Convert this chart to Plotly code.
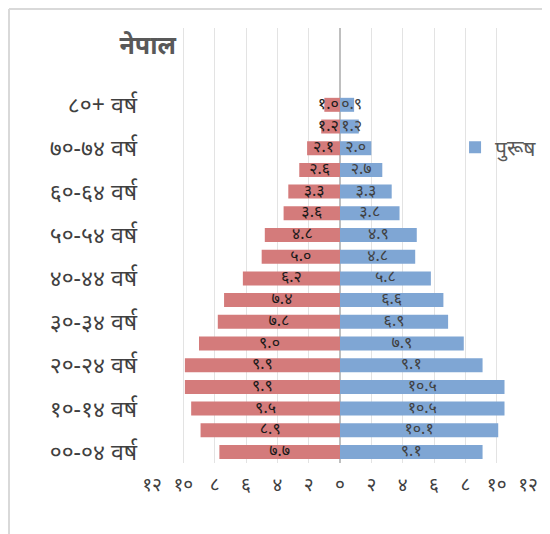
import plotly.graph_objects as go

age_labels = ["००-०४ वर्ष", "१०-१४ वर्ष", "२०-२४ वर्ष", "३०-३४ वर्ष", "४०-४४ वर्ष",
              "५०-५४ वर्ष", "६०-६४ वर्ष", "७०-७४ वर्ष", "८०+ वर्ष"]
# 17 age groups, bottom (00-04) to top (80+)
female = [7.7, 8.9, 9.5, 9.9, 9.9, 9.0, 7.8, 7.4, 6.2, 5.0, 4.8, 3.6, 3.3, 2.6, 2.1, 1.2, 1.0]
male = [9.1, 10.1, 10.5, 10.5, 9.1, 7.9, 6.9, 6.6, 5.8, 4.8, 4.9, 3.8, 3.3, 2.7, 2.0, 1.2, 0.9]
x_ticks = [-12, -10, -8, -6, -4, -2, 0, 2, 4, 6, 8, 10, 12]

DEV = str.maketrans("0123456789", "०१२३४५६७८९")


def dev(s):
    return str(s).translate(DEV)


idx = list(range(len(female)))
FONT = "Noto Sans, Noto Sans Devanagari, Lohit Devanagari, sans-serif"

W, H = 550, 534
L, R, T, B = 144, 30, 20, 79
PW, PH = W - L - R, H - T - B
SMALL = 1.6  # bars too short to hold a centred label without touching the other side

fig = go.Figure()
fig.add_trace(go.Bar(
    y=idx, x=[-v for v in female], orientation="h", name="महिला",
    marker=dict(color="#d47b7b", line=dict(width=0)), showlegend=False, hoverinfo="skip",
))
fig.add_trace(go.Bar(
    y=idx, x=male, orientation="h", name="पुरूष",
    marker=dict(color="#7fa6d4", line=dict(width=0)), hoverinfo="skip",
))
# data labels at the middle of each bar (short bars: anchored near the centre line)
fig.add_trace(go.Scatter(
    y=idx, x=[-0.08 if v < SMALL else -v / 2 for v in female], mode="text", showlegend=False,
    text=[dev(f"{v:.1f}") for v in female],
    textposition=["middle left" if v < SMALL else "middle center" for v in female],
    textfont=dict(color="#1a1a1a", size=16, family=FONT), cliponaxis=False, hoverinfo="skip",
))
fig.add_trace(go.Scatter(
    y=idx, x=[0.08 if v < SMALL else v / 2 for v in male], mode="text", showlegend=False,
    text=[dev(f"{v:.1f}") for v in male],
    textposition=["middle right" if v < SMALL else "middle center" for v in male],
    textfont=dict(color="#404040", size=16, family=FONT), cliponaxis=False, hoverinfo="skip",
))

bx = (1 - L) / PW
by = 1 + (T - 1) / PH
fig.update_layout(
    width=W, height=H, barmode="overlay", bargap=0.355,
    paper_bgcolor="white", plot_bgcolor="white",
    margin=dict(l=L, r=R, t=T, b=B, pad=0),
    font=dict(family=FONT, color="#404040"),
    legend=dict(x=0.806, y=0.772, xanchor="left", yanchor="top",
                font=dict(size=21, color="#595959"), bgcolor="rgba(0,0,0,0)"),
    title=dict(text="<b>नेपाल</b>", x=0.254, xanchor="center", y=0.931, yanchor="middle",
               font=dict(size=25, color="#595959")),
    shapes=[
        dict(type="line", xref="paper", yref="paper", x0=bx, x1=bx, y0=-(B / PH), y1=by,
             line=dict(color="#d9d9d9", width=2), layer="above"),
        dict(type="line", xref="paper", yref="paper", x0=bx, x1=1 + R / PW, y0=by, y1=by,
             line=dict(color="#d9d9d9", width=2), layer="above"),
    ],
)
fig.update_xaxes(range=[-12, 12], tickvals=x_ticks, ticktext=[dev(abs(v)) for v in x_ticks],
                 automargin=False,
                 showgrid=True, gridcolor="#e3e3e3", gridwidth=1,
                 zeroline=True, zerolinecolor="#bfbfbf", zerolinewidth=2,
                 tickfont=dict(size=19, color="#404040"), ticks="", ticklabelstandoff=8,
                 fixedrange=True)
fig.update_yaxes(range=[-0.507, 19.54], tickvals=list(range(0, 17, 2)), ticktext=age_labels,
                 automargin=False,
                 showgrid=False, zeroline=False, ticks="", ticklen=0, ticklabelstandoff=14,
                 tickfont=dict(size=23, color="#404040"))

fig.write_html("out.html")
